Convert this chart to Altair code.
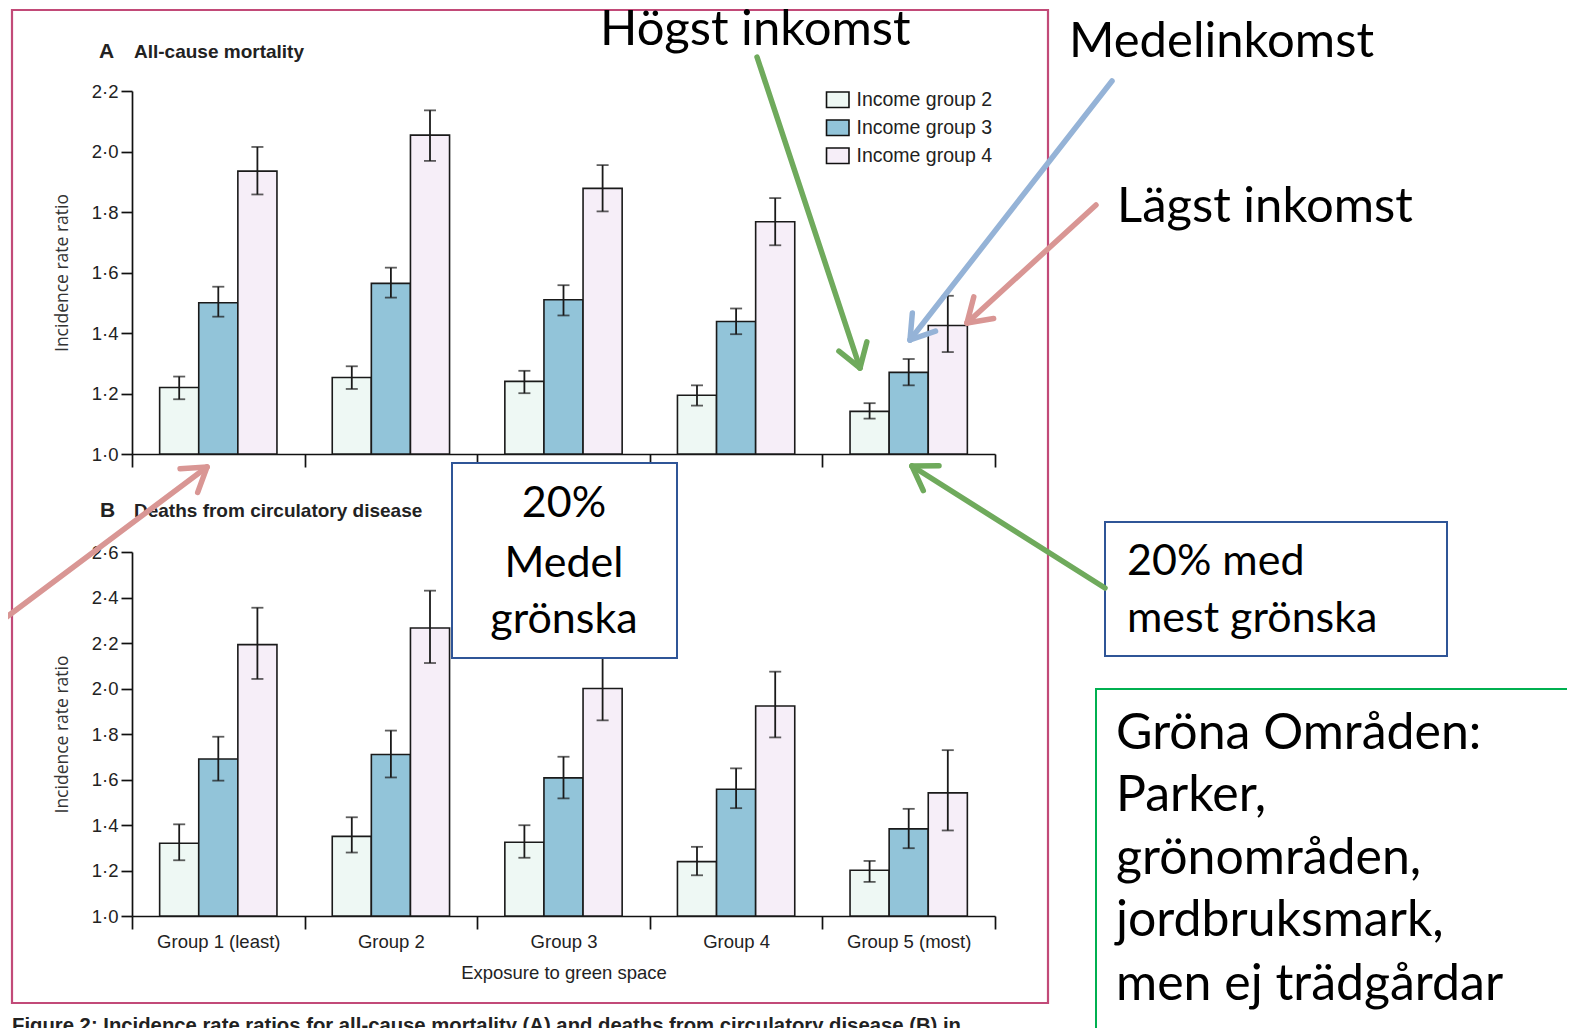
import math
import altair as alt
import pandas as pd

# ---------------- data ----------------
groups = ["Group 1 (least)", "Group 2", "Group 3", "Group 4", "Group 5 (most)"]
income = ["Income group 2", "Income group 3", "Income group 4"]
fill_colors = ["#eef8f4", "#92c4d9", "#f6eef8"]

# Panel A: all-cause mortality
a_inc2 = [1.22, 1.253, 1.24, 1.194, 1.141]
a_inc2_lo = [1.181, 1.215, 1.201, 1.160, 1.117]
a_inc2_hi = [1.256, 1.290, 1.275, 1.227, 1.168]
a_inc3 = [1.50, 1.564, 1.51, 1.438, 1.27]
a_inc3_lo = [1.454, 1.517, 1.458, 1.396, 1.227]
a_inc3_hi = [1.553, 1.616, 1.558, 1.481, 1.314]
a_inc4 = [1.935, 2.054, 1.878, 1.768, 1.425]
a_inc4_lo = [1.858, 1.969, 1.802, 1.690, 1.337]
a_inc4_hi = [2.015, 2.136, 1.955, 1.846, 1.523]

# Panel B: deaths from circulatory disease
b_inc2 = [1.32, 1.35, 1.324, 1.239, 1.201]
b_inc2_lo = [1.245, 1.279, 1.256, 1.179, 1.150]
b_inc2_hi = [1.403, 1.434, 1.399, 1.304, 1.242]
b_inc3 = [1.69, 1.71, 1.607, 1.557, 1.383]
b_inc3_lo = [1.595, 1.609, 1.517, 1.474, 1.298]
b_inc3_hi = [1.788, 1.815, 1.700, 1.649, 1.471]
b_inc4 = [2.193, 2.266, 2.0, 1.923, 1.541]
b_inc4_lo = [2.042, 2.112, 1.860, 1.785, 1.376]
b_inc4_hi = [2.355, 2.430, 2.145, 2.074, 1.729]

a_ticks = [1.0, 1.2, 1.4, 1.6, 1.8, 2.0, 2.2]
b_ticks = [1.0, 1.2, 1.4, 1.6, 1.8, 2.0, 2.2, 2.4, 2.6]

# ---------------- layout (page pixels) ----------------
M = 8  # page margin; plot origin sits at page (8, 8)
def P(v):
    return v - M

W, H = 1559, 1020
X0, X1 = 132, 995
A_Y = (454, 91)
B_Y = (916, 552)
AX_FONT = "Liberation Sans"
NOTE_FONT = "Lato"


def panel_df(vals, los, his):
    rows = []
    for gi, g in enumerate(groups):
        for k, inc in enumerate(income):
            rows.append(dict(group=g, income=inc, value=vals[k][gi],
                             lo=los[k][gi], hi=his[k][gi]))
    return pd.DataFrame(rows)


dfA = panel_df([a_inc2, a_inc3, a_inc4], [a_inc2_lo, a_inc3_lo, a_inc4_lo],
               [a_inc2_hi, a_inc3_hi, a_inc4_hi])
dfB = panel_df([b_inc2, b_inc3, b_inc4], [b_inc2_lo, b_inc3_lo, b_inc4_lo],
               [b_inc2_hi, b_inc3_hi, b_inc4_hi])

legend = alt.Legend(
    orient="none", legendX=P(828), legendY=P(90), title=None,
    symbolType="M-1.45,-1H1.45V1H-1.45Z", symbolSize=240,
    symbolStrokeColor="#111", symbolStrokeWidth=1.6,
    labelFont=AX_FONT, labelFontSize=19.5, labelColor="#222",
    labelOffset=9, rowPadding=5, padding=0,
)
fill_scale = alt.Scale(domain=income, range=fill_colors)


def panel(df, y_dom, y_px, ticks, show_labels):
    xs = alt.Scale(domain=groups, range=[P(X0), P(X1)], paddingInner=0, paddingOuter=0)
    xo = alt.Scale(domain=income, paddingInner=0, paddingOuter=0.707)
    ys = alt.Scale(domain=y_dom, range=[P(y_px[0]), P(y_px[1])], nice=False, zero=False)
    x_axis = alt.Axis(
        orient="bottom", offset=-(H - P(y_px[0])), tickBand="extent",
        domainColor="#111", domainWidth=1.7, tickColor="#111", tickWidth=1.7,
        tickSize=13, labels=show_labels, labelFont=AX_FONT, labelFontSize=18.5,
        labelColor="#222", labelPadding=3, labelAngle=0, grid=False,
        title="Exposure to green space" if show_labels else None,
        titleFont=AX_FONT, titleFontSize=18.5, titleFontWeight="normal",
        titleColor="#222", titleY=62, titleBaseline="alphabetic",
    )
    y_axis = alt.Axis(
        orient="left", offset=-P(X0), values=ticks,
        labelExpr="replace(format(datum.value, '.1f'), '.', '·')",
        domainColor="#111", domainWidth=1.7, tickColor="#111", tickWidth=1.7,
        tickSize=11, labelFont=AX_FONT, labelFontSize=18.5, labelColor="#222",
        labelPadding=3, labelOverlap=False, grid=False,
        title="Incidence rate ratio", titleFont="Open Sans", titleFontSize=17.5,
        titleFontWeight="normal", titleColor="#333", titleAngle=270,
        titleX=62 - X0, titleY=(y_px[0] + y_px[1]) / 2 - M,
        titleBaseline="middle", titleAlign="center",
    )
    x = alt.X("group:N", scale=xs, axis=x_axis, sort=groups)
    xoff = alt.XOffset("income:N", scale=xo, sort=income)
    bars = alt.Chart(df).mark_bar(stroke="#1a1a1a", strokeWidth=1.6).encode(
        x=x, xOffset=xoff,
        y=alt.Y("value:Q", scale=ys, axis=y_axis),
        y2=alt.datum(1.0),
        fill=alt.Fill("income:N", scale=fill_scale, legend=legend),
    )
    rule = alt.Chart(df).mark_rule(color="#1a1a1a", strokeWidth=1.8).encode(
        x=x, xOffset=xoff,
        y=alt.Y("lo:Q", scale=ys, axis=y_axis), y2="hi:Q",
    )
    caps = alt.Chart(df).transform_fold(["lo", "hi"], as_=["end", "v"]).mark_tick(
        color="#1a1a1a", size=12, thickness=1.8
    ).encode(
        x=x, xOffset=xoff,
        y=alt.Y("v:Q", scale=ys, axis=y_axis),
    )
    return alt.layer(bars, rule, caps)


panelA = panel(dfA, [1.0, 2.2], A_Y, a_ticks, False)
panelB = panel(dfB, [1.0, 2.6], B_Y, b_ticks, True)

# ---------------- annotations ----------------
def px_enc(extra=None):
    enc = dict(x=alt.X("x:Q", scale=None, axis=None),
               y=alt.Y("y:Q", scale=None, axis=None))
    if extra:
        enc.update(extra)
    return enc


def rect_layer(boxes, stroke, width, fill="white", opacity=1.0):
    df = pd.DataFrame([dict(x=P(a), x2=P(b), y=P(c), y2=P(d)) for a, b, c, d in boxes])
    return alt.Chart(df).mark_rect(fill=fill, fillOpacity=opacity, stroke=stroke,
                                   strokeWidth=width).encode(
        **px_enc(dict(x2="x2:Q", y2="y2:Q")))


def text_layer(items, font, size, weight="normal", align="left", color="black"):
    df = pd.DataFrame([dict(x=P(x), y=P(y), text=t) for x, y, t in items])
    return alt.Chart(df).mark_text(font=font, fontSize=size, fontWeight=weight,
                                   align=align, baseline="alphabetic",
                                   color=color).encode(**px_enc(dict(text="text:N")))


frame = rect_layer([(12, 1048, 10, 1003)], "#c24a78", 2.2, opacity=0)
box_mid = rect_layer([(452, 677, 463, 658)], "#2f5597", 2)
box_most = rect_layer([(1105, 1447, 522, 656)], "#2f5597", 2)
box_green = rect_layer([(1096, 1640, 689, 1200)], "#00b050", 2)

arrow_specs = [  # (x_start, y_start, x_tip, y_tip, colour)
    (757, 57, 860, 368, "#6faa5c"),
    (1112, 81, 910, 340, "#95b3d7"),
    (1096, 205, 967, 323, "#d99694"),
    (0, 622, 207, 467, "#d99694"),
    (1105, 588, 912, 466, "#6faa5c"),
]
segs = []
HEAD, ANG = 27, math.radians(33)
for x1, y1, x2, y2, c in arrow_specs:
    segs.append(dict(x=P(x1), y=P(y1), x2=P(x2), y2=P(y2), c=c))
    d = math.hypot(x2 - x1, y2 - y1)
    ux, uy = (x1 - x2) / d, (y1 - y2) / d
    for s in (1, -1):
        ca, sa = math.cos(s * ANG), math.sin(s * ANG)
        bx, by = ux * ca - uy * sa, ux * sa + uy * ca
        segs.append(dict(x=P(x2), y=P(y2), x2=P(x2 + HEAD * bx), y2=P(y2 + HEAD * by), c=c))
arrows = alt.Chart(pd.DataFrame(segs)).mark_rule(strokeWidth=5.5, strokeCap="round").encode(
    **px_enc(dict(x2="x2:Q", y2="y2:Q", color=alt.Color("c:N", scale=None, legend=None))))

panel_titles = alt.layer(
    text_layer([(99, 58, "A"), (100, 517, "B")], AX_FONT, 21, "bold", color="#222"),
    text_layer([(134, 58, "All-cause mortality"), (134, 517, "Deaths from circulatory disease")],
               AX_FONT, 19, "bold", color="#222"),
)
caption = text_layer([(12, 1032, "Figure 2: Incidence rate ratios for all-cause mortality (A) and "
                                  "deaths from circulatory disease (B) in")],
                     AX_FONT, 20.3, "bold", color="#222")

big_notes = text_layer([(600, 45, "Högst inkomst"), (1069, 57, "Medelinkomst"),
                        (1117, 222, "Lägst inkomst")], NOTE_FONT, 49)
mid_notes = text_layer([(564, 517, "20%"), (564, 577, "Medel"), (564, 633, "grönska")],
                       NOTE_FONT, 43, align="center")
most_notes = text_layer([(1127, 575, "20% med"), (1127, 632, "mest grönska")], NOTE_FONT, 43)
green_notes = text_layer([(1116, 749, "Gröna Områden:"), (1116, 811, "Parker,"),
                          (1116, 874, "grönområden,"), (1116, 936, "jordbruksmark,"),
                          (1116, 1000, "men ej trädgårdar")], NOTE_FONT, 50)

chart = alt.layer(
    frame, panelA, panelB, panel_titles, caption,
    box_mid, box_most, box_green, arrows,
    big_notes, mid_notes, most_notes, green_notes,
).resolve_scale(x="independent", y="independent", xOffset="independent").properties(
    width=W, height=H, autosize=alt.AutoSizeParams(type="none"), padding=0,
    background="white",
).configure_view(strokeWidth=0)

chart.save("out.html", embed_options={"renderer": "svg", "actions": False})
